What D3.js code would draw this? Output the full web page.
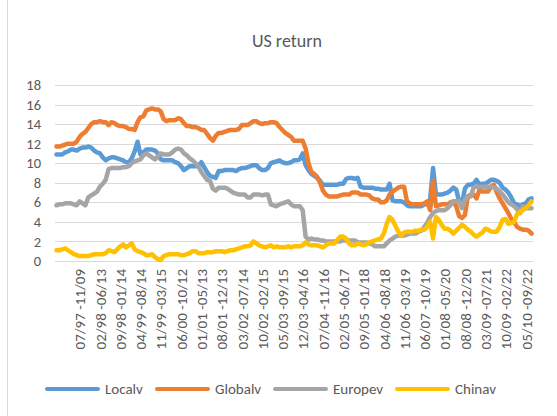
<!DOCTYPE html>
<html>
<head>
<meta charset="utf-8">
<script src="https://cdn.jsdelivr.net/npm/d3@7"></script>
<style>
  body { margin: 0; background: #fff; }
  text { font-family: Calibri, Carlito, Lato, "Liberation Sans", sans-serif; fill: #595959; }
</style>
</head>
<body>
<script>
let w = 557;
let h = 416;

// rolling window labels, one every 7 months
var tickLabels = ["07/97 -11/09", "02/98 -06/13", "09/98 -01/14", "04/99 -08/14", "11/99 -03/15",
    "06/00 -10/12", "01/01 -05/13", "08/01 -12/13", "03/02 -07/14", "10/02 -02/15", "05/03 -09/15",
    "12/03 -04/16", "07/04 -11/16", "02/05 -06/17", "09/05 -01/18", "04/06 -08/18", "11/06 -03/19",
    "06/07 -10/19", "01/08 -05/20", "08/08 -12/20", "03/09 -07/21", "10/09 -02/22", "05/10 -09/22"];
var firstTick = 8;
var tickStep = 7;
var yTicks = [0, 2, 4, 6, 8, 10, 12, 14, 16, 18];

var localv = [
    10.9, 10.9, 10.9, 11.1, 11.2, 11.4, 11.4, 11.3, 11.5, 11.6,
    11.6, 11.7, 11.6, 11.3, 11.1, 11.0, 10.6, 10.3, 10.5, 10.6,
    10.6, 10.5, 10.4, 10.3, 10.1, 10.1, 10.5, 11.2, 12.2, 10.9,
    11.1, 11.4, 11.4, 11.4, 11.3, 11.0, 10.4, 10.3, 10.3, 10.3,
    10.3, 10.1, 10.0, 9.7, 9.3, 9.5, 9.7, 9.7, 9.7, 9.7,
    10.1, 9.6, 9.1, 8.7, 8.6, 8.5, 9.2, 9.2, 9.3, 9.3,
    9.3, 9.3, 9.2, 9.4, 9.5, 9.5, 9.6, 9.7, 9.8, 9.8,
    9.5, 9.3, 9.3, 9.5, 10.0, 10.1, 10.2, 10.3, 10.1, 10.0,
    10.0, 10.1, 10.3, 10.3, 10.4, 11.0, 9.8, 9.3, 8.9, 8.7,
    8.5, 8.2, 7.8, 7.8, 7.8, 7.8, 7.8, 7.8, 7.9, 7.9,
    8.4, 8.5, 8.5, 8.4, 8.5, 7.6, 7.5, 7.5, 7.5, 7.5,
    7.4, 7.4, 7.3, 7.3, 7.3, 7.9, 6.2, 6.1, 6.1, 6.1,
    6.0, 5.7, 5.6, 5.6, 5.6, 5.6, 5.6, 5.8, 5.8, 6.3,
    9.5, 6.8, 6.8, 6.8, 6.9, 7.0, 7.2, 7.5, 7.3, 6.1,
    5.9, 7.4, 7.8, 7.8, 7.9, 8.3, 7.8, 7.9, 7.9, 8.1,
    8.3, 8.3, 8.2, 8.0, 7.5, 7.3, 7.0, 6.5, 5.9, 5.8,
    5.6, 5.8, 5.9, 6.3, 6.4];
var globalv = [
    11.7, 11.7, 11.8, 11.9, 12.0, 12.0, 12.0, 12.2, 12.7, 13.0,
    13.2, 13.6, 14.0, 14.2, 14.2, 14.3, 14.2, 14.2, 13.9, 14.2,
    14.1, 13.9, 13.8, 13.8, 13.7, 13.5, 13.5, 13.4, 14.2, 14.7,
    14.8, 15.4, 15.5, 15.6, 15.5, 15.5, 15.3, 14.5, 14.3, 14.4,
    14.4, 14.4, 14.6, 14.5, 14.1, 13.8, 13.8, 13.7, 13.7, 13.6,
    13.4, 13.4, 13.0, 12.6, 12.3, 12.8, 13.1, 13.1, 13.2, 13.3,
    13.4, 13.4, 13.4, 13.5, 13.9, 13.9, 13.9, 14.1, 14.3, 14.3,
    14.1, 14.0, 14.1, 14.1, 14.2, 14.2, 14.1, 13.7, 13.4, 13.1,
    12.9, 12.7, 12.3, 12.3, 12.3, 12.3, 11.5, 10.0, 9.1, 8.9,
    8.6, 8.0, 7.2, 6.8, 6.6, 6.6, 6.6, 6.6, 6.7, 6.8,
    6.8, 6.8, 7.0, 7.0, 7.0, 6.8, 6.8, 6.8, 6.7, 6.4,
    6.3, 6.3, 6.0, 6.0, 6.2, 6.8, 7.1, 7.3, 7.5, 7.6,
    7.6, 6.1, 5.9, 5.8, 5.8, 5.8, 5.8, 5.9, 6.1, 5.2,
    8.2, 5.6, 5.7, 5.8, 5.8, 5.8, 6.0, 6.1, 5.6, 4.6,
    4.4, 4.7, 6.6, 6.8, 6.8, 6.4, 7.3, 7.1, 7.1, 7.1,
    7.6, 7.8, 7.0, 6.4, 5.9, 5.4, 4.9, 4.3, 4.0, 3.5,
    3.3, 3.2, 3.2, 3.1, 2.8];
var europev = [
    5.7, 5.8, 5.8, 5.9, 5.9, 5.9, 5.8, 5.7, 6.1, 5.9,
    5.7, 6.5, 6.7, 6.9, 7.1, 7.6, 7.9, 8.3, 9.4, 9.5,
    9.5, 9.5, 9.5, 9.6, 9.6, 9.7, 10.0, 10.2, 10.3, 10.4,
    10.8, 11.0, 10.8, 10.6, 10.4, 10.7, 11.0, 10.9, 10.9, 10.9,
    11.1, 11.4, 11.5, 11.4, 11.0, 10.8, 10.5, 10.3, 10.0, 9.7,
    9.1, 8.7, 8.3, 8.2, 7.4, 7.2, 7.5, 7.5, 7.5, 7.4,
    7.2, 7.0, 6.9, 6.8, 6.8, 6.8, 6.5, 6.5, 6.8, 6.8,
    6.8, 6.7, 6.8, 6.8, 5.8, 5.7, 5.6, 5.8, 5.9, 6.0,
    6.1, 5.8, 5.6, 5.6, 5.6, 5.2, 2.5, 2.2, 2.3, 2.2,
    2.2, 2.1, 2.1, 2.0, 2.0, 2.0, 2.0, 2.0, 2.0, 2.1,
    2.1, 2.1, 2.1, 2.1, 1.9, 1.9, 1.9, 1.9, 1.8, 1.7,
    1.5, 1.5, 1.5, 1.5, 1.8, 2.1, 2.3, 2.5, 2.6, 2.6,
    2.6, 2.7, 2.8, 2.8, 2.8, 3.0, 3.1, 3.5, 3.9, 4.5,
    4.9, 5.1, 5.2, 5.2, 5.2, 5.4, 5.7, 6.1, 6.1, 6.1,
    5.4, 6.3, 6.5, 6.6, 7.5, 7.6, 7.6, 7.6, 7.6, 7.6,
    7.6, 7.5, 7.4, 7.1, 6.8, 6.4, 6.0, 5.8, 5.6, 5.3,
    4.9, 5.6, 5.4, 5.4, 5.4];
var chinav = [
    1.1, 1.1, 1.2, 1.3, 1.1, 0.9, 0.7, 0.6, 0.5, 0.5,
    0.5, 0.5, 0.6, 0.7, 0.7, 0.7, 0.7, 0.8, 1.1, 1.0,
    0.9, 1.2, 1.5, 1.7, 1.4, 1.6, 1.8, 1.2, 1.0, 0.9,
    0.8, 0.6, 0.6, 0.7, 0.4, 0.2, 0.1, 0.5, 0.6, 0.7,
    0.7, 0.7, 0.7, 0.6, 0.6, 0.7, 0.8, 1.0, 1.0, 0.8,
    0.8, 0.8, 0.9, 0.9, 0.9, 1.0, 1.0, 1.0, 0.9, 1.0,
    1.1, 1.1, 1.2, 1.3, 1.4, 1.5, 1.5, 1.6, 2.0, 1.8,
    1.6, 1.5, 1.4, 1.5, 1.6, 1.4, 1.5, 1.4, 1.4, 1.4,
    1.5, 1.4, 1.5, 1.5, 1.5, 1.6, 1.9, 1.7, 1.6, 1.6,
    1.6, 1.5, 1.4, 1.6, 1.8, 1.8, 1.8, 2.2, 2.5, 2.5,
    2.3, 1.8, 1.6, 1.6, 1.8, 1.7, 1.6, 1.7, 1.9, 2.0,
    2.1, 2.2, 2.3, 2.8, 3.8, 4.5, 4.2, 3.6, 3.0, 2.6,
    2.9, 3.0, 3.0, 3.0, 3.1, 3.1, 3.2, 3.2, 3.5, 4.0,
    2.3, 4.5, 4.2, 3.7, 3.3, 3.3, 3.1, 2.8, 3.1, 3.4,
    3.7, 3.5, 3.2, 3.0, 2.7, 2.5, 2.7, 2.9, 3.3, 3.2,
    3.0, 3.0, 3.0, 3.5, 4.2, 4.3, 3.8, 3.9, 4.0, 4.8,
    5.0, 5.2, 5.4, 5.7, 6.1];

var seriesNames = ["Localv", "Globalv", "Europev", "Chinav"];
var seriesColors = ["#5B9BD5", "#ED7D31", "#A5A5A5", "#FFC000"];
var seriesData = [localv, globalv, europev, chinav];

var n = localv.length;
var fontStack = "Calibri, Carlito, Lato, 'Liberation Sans', sans-serif";

var svg = d3.select("body").append("svg")
    .attr("width", w)
    .attr("height", h);

svg.append("rect").attr("width", w).attr("height", h).attr("fill", "#fff");
// chart area border (only the left edge shows)
svg.append("line")
    .attr("x1", 7.5).attr("x2", 7.5).attr("y1", 0).attr("y2", h)
    .attr("stroke", "#d9d9d9").attr("stroke-width", 1);

var x = d3.scalePoint().domain(d3.range(n)).range([55, 533]).padding(0.5);
var y = d3.scaleLinear().domain([0, 18]).range([261, 85]);

// title
svg.append("text")
    .attr("x", 287).attr("y", 47)
    .attr("text-anchor", "middle")
    .style("font-size", "18px")
    .text("US return");

// gridlines
svg.append("g").selectAll("line").data(yTicks).enter().append("line")
    .attr("x1", 55).attr("x2", 533)
    .attr("y1", d => Math.round(y(d)) + 0.5)
    .attr("y2", d => Math.round(y(d)) + 0.5)
    .attr("stroke", "#d9d9d9").attr("stroke-width", 1);

// y axis labels
var yAxis = svg.append("g")
    .attr("transform", "translate(41,0)")
    .call(d3.axisLeft(y).tickValues(yTicks).tickSize(0).tickPadding(0));
yAxis.select(".domain").remove();
yAxis.selectAll("text")
    .style("font-size", "14.5px")
    .style("fill", "#595959")
    .style("font-family", fontStack);

// x axis labels, rotated
var tickIdx = tickLabels.map((d, i) => firstTick + i * tickStep);
var xAxis = svg.append("g")
    .attr("transform", "translate(0,269)")
    .call(d3.axisBottom(x).tickValues(tickIdx)
        .tickFormat((d, i) => tickLabels[i]).tickSize(0).tickPadding(0));
xAxis.select(".domain").remove();
xAxis.selectAll("text")
    .attr("transform", "rotate(-90)")
    .attr("text-anchor", "end")
    .attr("x", 0)
    .attr("y", 0)
    .attr("dy", "0.35em")
    .style("font-size", "15px")
    .style("fill", "#595959")
    .style("font-family", fontStack);

// series lines
var line = d3.line()
    .x((d, i) => x(i))
    .y(d => y(d));

svg.append("g").selectAll("path").data(seriesData).enter().append("path")
    .attr("d", d => line(d))
    .attr("fill", "none")
    .attr("stroke", (d, i) => seriesColors[i])
    .attr("stroke-width", 4.5)
    .attr("stroke-linejoin", "round")
    .attr("stroke-linecap", "round");

// legend
var legendX = [46, 156, 274, 396];
var legend = svg.append("g").selectAll("g").data(seriesNames).enter().append("g")
    .attr("transform", (d, i) => `translate(${legendX[i]},389)`);
legend.append("line")
    .attr("x1", 1).attr("x2", 52)
    .attr("stroke", (d, i) => seriesColors[i])
    .attr("stroke-width", 4)
    .attr("stroke-linecap", "round");
legend.append("text")
    .attr("x", 59).attr("dy", "0.35em")
    .style("font-size", "15px")
    .text(d => d);
</script>
</body>
</html>
